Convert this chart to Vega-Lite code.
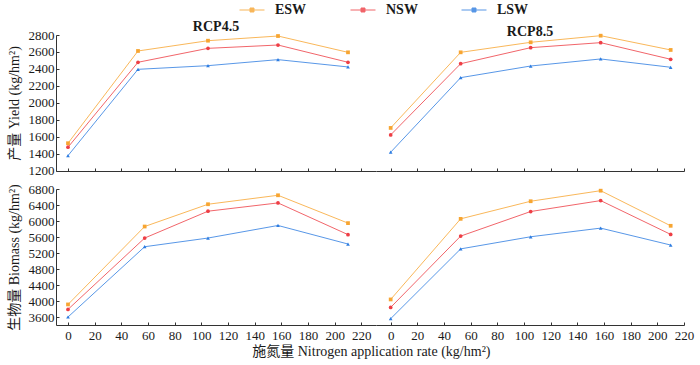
{
  "$schema": "https://vega.github.io/schema/vega-lite/v6.json",
  "background": "white",
  "padding": {"left": 6, "top": 3, "right": 2, "bottom": 4},
  "spacing": 5,
  "title": {"text": "施氮量 Nitrogen application rate (kg/hm²)", "orient": "bottom", "anchor": "middle", "font": "Liberation Serif, Noto Sans CJK SC", "fontSize": 14, "fontWeight": "normal", "offset": 3, "dx": 21, "color": "#1a1a1a"},
  "config": {
    "view": {"stroke": null},
    "font": "Liberation Serif",
    "axis": {"grid": false, "labelFont": "Liberation Serif", "labelFontSize": 13, "labelColor": "#1a1a1a", "titleFont": "Liberation Serif, Noto Sans CJK SC", "titleFontSize": 14, "titleFontWeight": "normal", "titleColor": "#1a1a1a", "domainColor": "#333333", "tickColor": "#333333", "tickSize": -3, "labelPadding": 5, "titlePadding": 7, "labelFlush": false, "labelOverlap": false, "format": "d"},
    "axisX": {"labelAngle": 0, "labelPadding": 7, "labelFont": "Liberation Serif"},
    "axisY": {"labelFont": "Liberation Serif"},
    "title": {"font": "Liberation Serif", "fontSize": 14, "fontWeight": "bold", "color": "#1a1a1a", "offset": -5}
  },
  "data": {"values": [
    {"v": "Yield", "r": "RCP4.5", "s": "ESW", "n": 0, "y": 1526},
    {"v": "Yield", "r": "RCP4.5", "s": "ESW", "n": 52.5, "y": 2612},
    {"v": "Yield", "r": "RCP4.5", "s": "ESW", "n": 105, "y": 2733},
    {"v": "Yield", "r": "RCP4.5", "s": "ESW", "n": 157.5, "y": 2788},
    {"v": "Yield", "r": "RCP4.5", "s": "ESW", "n": 210, "y": 2596},
    {"v": "Yield", "r": "RCP4.5", "s": "NSW", "n": 0, "y": 1479},
    {"v": "Yield", "r": "RCP4.5", "s": "NSW", "n": 52.5, "y": 2479},
    {"v": "Yield", "r": "RCP4.5", "s": "NSW", "n": 105, "y": 2643},
    {"v": "Yield", "r": "RCP4.5", "s": "NSW", "n": 157.5, "y": 2682},
    {"v": "Yield", "r": "RCP4.5", "s": "NSW", "n": 210, "y": 2479},
    {"v": "Yield", "r": "RCP4.5", "s": "LSW", "n": 0, "y": 1380},
    {"v": "Yield", "r": "RCP4.5", "s": "LSW", "n": 52.5, "y": 2396},
    {"v": "Yield", "r": "RCP4.5", "s": "LSW", "n": 105, "y": 2439},
    {"v": "Yield", "r": "RCP4.5", "s": "LSW", "n": 157.5, "y": 2510},
    {"v": "Yield", "r": "RCP4.5", "s": "LSW", "n": 210, "y": 2424},
    {"v": "Yield", "r": "RCP8.5", "s": "ESW", "n": 0, "y": 1706},
    {"v": "Yield", "r": "RCP8.5", "s": "ESW", "n": 52.5, "y": 2596},
    {"v": "Yield", "r": "RCP8.5", "s": "ESW", "n": 105, "y": 2714},
    {"v": "Yield", "r": "RCP8.5", "s": "ESW", "n": 157.5, "y": 2792},
    {"v": "Yield", "r": "RCP8.5", "s": "ESW", "n": 210, "y": 2624},
    {"v": "Yield", "r": "RCP8.5", "s": "NSW", "n": 0, "y": 1624},
    {"v": "Yield", "r": "RCP8.5", "s": "NSW", "n": 52.5, "y": 2462},
    {"v": "Yield", "r": "RCP8.5", "s": "NSW", "n": 105, "y": 2651},
    {"v": "Yield", "r": "RCP8.5", "s": "NSW", "n": 157.5, "y": 2710},
    {"v": "Yield", "r": "RCP8.5", "s": "NSW", "n": 210, "y": 2514},
    {"v": "Yield", "r": "RCP8.5", "s": "LSW", "n": 0, "y": 1420},
    {"v": "Yield", "r": "RCP8.5", "s": "LSW", "n": 52.5, "y": 2298},
    {"v": "Yield", "r": "RCP8.5", "s": "LSW", "n": 105, "y": 2435},
    {"v": "Yield", "r": "RCP8.5", "s": "LSW", "n": 157.5, "y": 2518},
    {"v": "Yield", "r": "RCP8.5", "s": "LSW", "n": 210, "y": 2420},
    {"v": "Biomass", "r": "RCP4.5", "s": "ESW", "n": 0, "y": 3914},
    {"v": "Biomass", "r": "RCP4.5", "s": "ESW", "n": 57.5, "y": 5862},
    {"v": "Biomass", "r": "RCP4.5", "s": "ESW", "n": 105, "y": 6419},
    {"v": "Biomass", "r": "RCP4.5", "s": "ESW", "n": 157.5, "y": 6643},
    {"v": "Biomass", "r": "RCP4.5", "s": "ESW", "n": 210, "y": 5947},
    {"v": "Biomass", "r": "RCP4.5", "s": "NSW", "n": 0, "y": 3790},
    {"v": "Biomass", "r": "RCP4.5", "s": "NSW", "n": 57.5, "y": 5574},
    {"v": "Biomass", "r": "RCP4.5", "s": "NSW", "n": 105, "y": 6245},
    {"v": "Biomass", "r": "RCP4.5", "s": "NSW", "n": 157.5, "y": 6452},
    {"v": "Biomass", "r": "RCP4.5", "s": "NSW", "n": 210, "y": 5659},
    {"v": "Biomass", "r": "RCP4.5", "s": "LSW", "n": 0, "y": 3600},
    {"v": "Biomass", "r": "RCP4.5", "s": "LSW", "n": 57.5, "y": 5357},
    {"v": "Biomass", "r": "RCP4.5", "s": "LSW", "n": 105, "y": 5574},
    {"v": "Biomass", "r": "RCP4.5", "s": "LSW", "n": 157.5, "y": 5888},
    {"v": "Biomass", "r": "RCP4.5", "s": "LSW", "n": 210, "y": 5424},
    {"v": "Biomass", "r": "RCP8.5", "s": "ESW", "n": 0, "y": 4039},
    {"v": "Biomass", "r": "RCP8.5", "s": "ESW", "n": 52.5, "y": 6054},
    {"v": "Biomass", "r": "RCP8.5", "s": "ESW", "n": 105, "y": 6494},
    {"v": "Biomass", "r": "RCP8.5", "s": "ESW", "n": 157.5, "y": 6758},
    {"v": "Biomass", "r": "RCP8.5", "s": "ESW", "n": 210, "y": 5880},
    {"v": "Biomass", "r": "RCP8.5", "s": "NSW", "n": 0, "y": 3840},
    {"v": "Biomass", "r": "RCP8.5", "s": "NSW", "n": 52.5, "y": 5623},
    {"v": "Biomass", "r": "RCP8.5", "s": "NSW", "n": 105, "y": 6237},
    {"v": "Biomass", "r": "RCP8.5", "s": "NSW", "n": 157.5, "y": 6510},
    {"v": "Biomass", "r": "RCP8.5", "s": "NSW", "n": 210, "y": 5665},
    {"v": "Biomass", "r": "RCP8.5", "s": "LSW", "n": 0, "y": 3558},
    {"v": "Biomass", "r": "RCP8.5", "s": "LSW", "n": 52.5, "y": 5303},
    {"v": "Biomass", "r": "RCP8.5", "s": "LSW", "n": 105, "y": 5606},
    {"v": "Biomass", "r": "RCP8.5", "s": "LSW", "n": 157.5, "y": 5822},
    {"v": "Biomass", "r": "RCP8.5", "s": "LSW", "n": 210, "y": 5399}
  ]},
  "vconcat": [
    {
      "bounds": "flush",
      "spacing": 0,
      "hconcat": [
        {
          "width": 320, "height": 136,
          "title": {"text": "RCP4.5"},
          "transform": [{"filter": "datum.v === 'Yield' && datum.r === 'RCP4.5'"}],
          "encoding": {
            "x": {"field": "n", "type": "quantitative", "scale": {"domain": [-9, 231], "nice": false, "zero": false}, "axis": {"values": [0, 20, 40, 60, 80, 100, 120, 140, 160, 180, 200, 220], "labels": false, "title": null}},
            "y": {"field": "y", "type": "quantitative", "scale": {"domain": [1199, 2800], "nice": false, "zero": false}, "axis": {"values": [1200, 1400, 1600, 1800, 2000, 2200, 2400, 2600, 2800], "title": "产量 Yield (kg/hm²)"}},
            "color": {"field": "s", "type": "nominal", "scale": {"domain": ["ESW", "NSW", "LSW"], "range": ["#F7A531", "#EE3E45", "#2E7DE1"]},
              "legend": {"orient": "none", "legendX": 189, "legendY": -32, "direction": "horizontal", "title": null, "symbolType": "M-2,0H2M-0.32,-0.32H0.32V0.32H-0.32Z", "symbolSize": 156, "symbolStrokeWidth": 1, "columnPadding": 41, "labelOffset": 16, "labelFont": "Liberation Serif", "labelFontSize": 14, "labelFontWeight": "bold", "labelColor": "#1a1a1a",
                "encode": {"symbols": {"update": {
                  "shape": {"signal": "datum.value === 'ESW' ? 'M-2,0H2M-0.32,-0.32H0.32V0.32H-0.32Z' : datum.value === 'NSW' ? 'M-2,0H2M-0.34,0A0.34,0.34,0,1,1,0.34,0A0.34,0.34,0,1,1,-0.34,0Z' : 'M-2,0H2M0,-0.42L0.38,0.28H-0.38Z'"},
                  "fill": {"signal": "datum.value === 'ESW' ? '#F7A531' : datum.value === 'NSW' ? '#EE3E45' : '#2E7DE1'"},
                  "stroke": {"signal": "datum.value === 'ESW' ? '#F9B862' : datum.value === 'NSW' ? '#F27076' : '#629EEA'"},
                  "strokeWidth": {"value": 1},
                  "opacity": {"value": 1}
                }}}}}
          },
          "layer": [
            {"mark": {"type": "line", "strokeWidth": 1, "opacity": 0.8}},
            {"transform": [{"filter": "datum.s === 'ESW'"}], "mark": {"type": "point", "shape": "square", "filled": true, "size": 14, "opacity": 1}},
            {"transform": [{"filter": "datum.s === 'NSW'"}], "mark": {"type": "point", "shape": "circle", "filled": true, "size": 14, "opacity": 1}},
            {"transform": [{"filter": "datum.s === 'LSW'"}], "mark": {"type": "point", "shape": "triangle-up", "filled": true, "size": 14, "opacity": 1}}
          ]
        },
        {
          "width": 308, "height": 136,
          "title": {"text": "RCP8.5"},
          "transform": [{"filter": "datum.v === 'Yield' && datum.r === 'RCP8.5'"}],
          "encoding": {
            "x": {"field": "n", "type": "quantitative", "scale": {"domain": [-11, 220], "nice": false, "zero": false}, "axis": {"values": [0, 20, 40, 60, 80, 100, 120, 140, 160, 180, 200, 220], "labels": false, "title": null}},
            "y": {"field": "y", "type": "quantitative", "scale": {"domain": [1199, 2800], "nice": false, "zero": false}, "axis": null},
            "color": {"field": "s", "type": "nominal", "scale": {"domain": ["ESW", "NSW", "LSW"], "range": ["#F7A531", "#EE3E45", "#2E7DE1"]}}
          },
          "layer": [
            {"mark": {"type": "line", "strokeWidth": 1, "opacity": 0.8}},
            {"transform": [{"filter": "datum.s === 'ESW'"}], "mark": {"type": "point", "shape": "square", "filled": true, "size": 14, "opacity": 1}},
            {"transform": [{"filter": "datum.s === 'NSW'"}], "mark": {"type": "point", "shape": "circle", "filled": true, "size": 14, "opacity": 1}},
            {"transform": [{"filter": "datum.s === 'LSW'"}], "mark": {"type": "point", "shape": "triangle-up", "filled": true, "size": 14, "opacity": 1}}
          ]
        }
      ]
    },
    {
      "bounds": "flush",
      "spacing": 0,
      "hconcat": [
        {
          "width": 320, "height": 136,
          "transform": [{"filter": "datum.v === 'Biomass' && datum.r === 'RCP4.5'"}],
          "encoding": {
            "x": {"field": "n", "type": "quantitative", "scale": {"domain": [-9, 231], "nice": false, "zero": false}, "axis": {"values": [0, 20, 40, 60, 80, 100, 120, 140, 160, 180, 200, 220], "title": null}},
            "y": {"field": "y", "type": "quantitative", "scale": {"domain": [3400, 6800], "nice": false, "zero": false}, "axis": {"values": [3600, 4000, 4400, 4800, 5200, 5600, 6000, 6400, 6800], "title": "生物量 Biomass (kg/hm²)"}},
            "color": {"field": "s", "type": "nominal", "scale": {"domain": ["ESW", "NSW", "LSW"], "range": ["#F7A531", "#EE3E45", "#2E7DE1"]}}
          },
          "layer": [
            {"mark": {"type": "line", "strokeWidth": 1, "opacity": 0.8}},
            {"transform": [{"filter": "datum.s === 'ESW'"}], "mark": {"type": "point", "shape": "square", "filled": true, "size": 14, "opacity": 1}},
            {"transform": [{"filter": "datum.s === 'NSW'"}], "mark": {"type": "point", "shape": "circle", "filled": true, "size": 14, "opacity": 1}},
            {"transform": [{"filter": "datum.s === 'LSW'"}], "mark": {"type": "point", "shape": "triangle-up", "filled": true, "size": 14, "opacity": 1}}
          ]
        },
        {
          "width": 308, "height": 136,
          "transform": [{"filter": "datum.v === 'Biomass' && datum.r === 'RCP8.5'"}],
          "encoding": {
            "x": {"field": "n", "type": "quantitative", "scale": {"domain": [-11, 220], "nice": false, "zero": false}, "axis": {"values": [0, 20, 40, 60, 80, 100, 120, 140, 160, 180, 200, 220], "title": null}},
            "y": {"field": "y", "type": "quantitative", "scale": {"domain": [3400, 6800], "nice": false, "zero": false}, "axis": null},
            "color": {"field": "s", "type": "nominal", "scale": {"domain": ["ESW", "NSW", "LSW"], "range": ["#F7A531", "#EE3E45", "#2E7DE1"]}}
          },
          "layer": [
            {"mark": {"type": "line", "strokeWidth": 1, "opacity": 0.8}},
            {"transform": [{"filter": "datum.s === 'ESW'"}], "mark": {"type": "point", "shape": "square", "filled": true, "size": 14, "opacity": 1}},
            {"transform": [{"filter": "datum.s === 'NSW'"}], "mark": {"type": "point", "shape": "circle", "filled": true, "size": 14, "opacity": 1}},
            {"transform": [{"filter": "datum.s === 'LSW'"}], "mark": {"type": "point", "shape": "triangle-up", "filled": true, "size": 14, "opacity": 1}}
          ]
        }
      ]
    }
  ]
}
